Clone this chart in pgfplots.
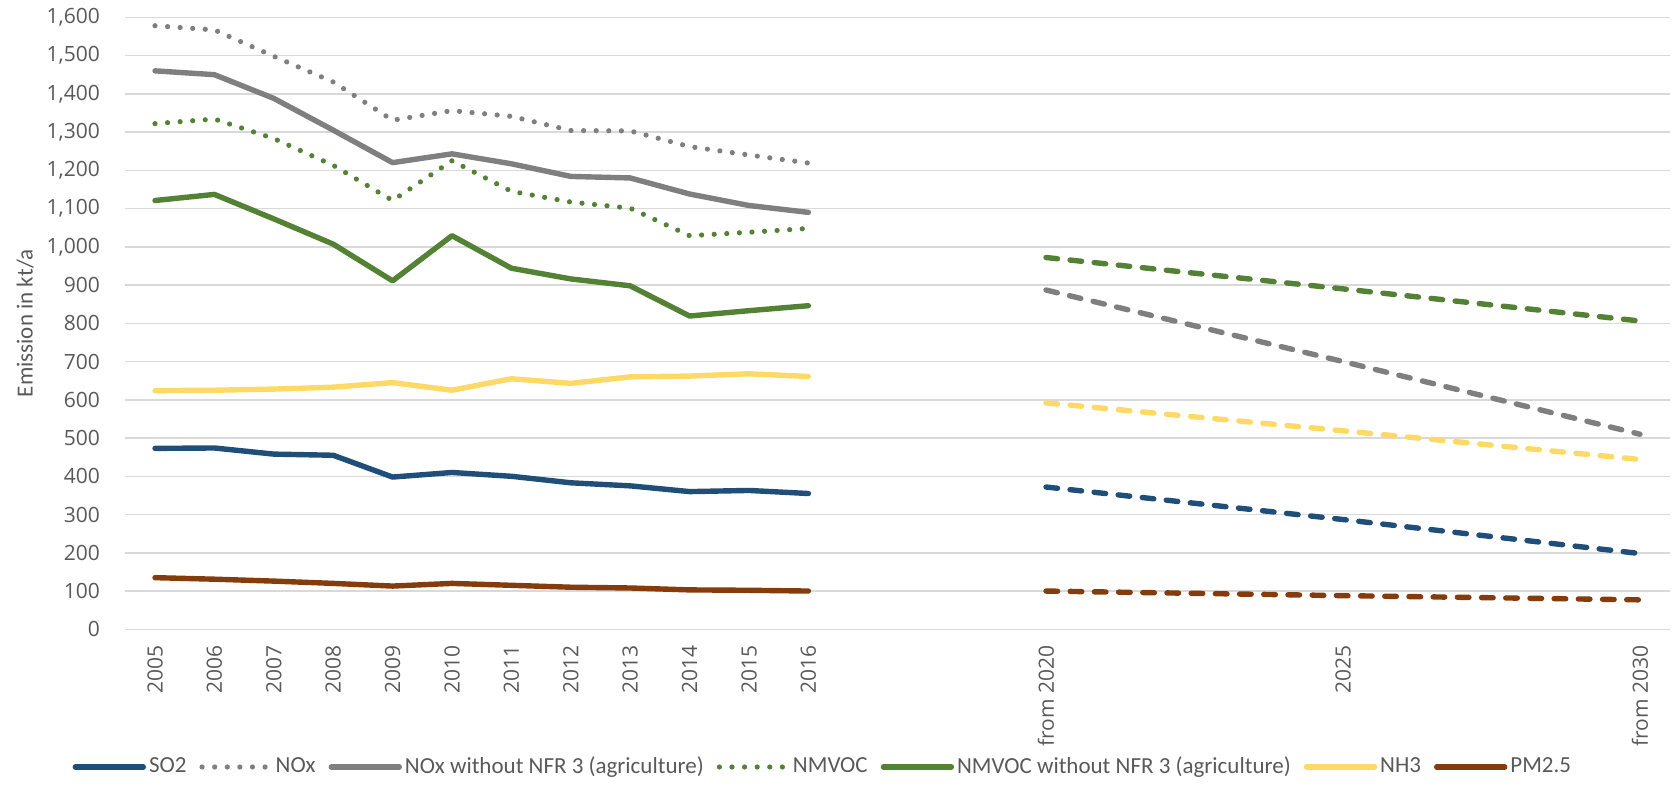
\documentclass[border=0pt]{standalone}
\usepackage{fontspec}
\setmainfont{Carlito}
\newfontfamily\tickfont{Open Sans}
\usepackage{pgfplots}
\pgfplotsset{compat=1.18}
\definecolor{cSO}{HTML}{1F4E79}
\definecolor{cNOx}{HTML}{7F7F7F}
\definecolor{cVOC}{HTML}{548235}
\definecolor{cNH}{HTML}{FFD966}
\definecolor{cPM}{HTML}{843C0C}
\definecolor{gridgray}{HTML}{D9D9D9}
\definecolor{textgray}{HTML}{595959}
\tikzset{
  solidline/.style={line width=2.7bp, line cap=round, line join=round, solid},
  dotline/.style={line width=2.6bp, line cap=round, line join=round, dash pattern=on 0bp off 6.3bp},
  dashline/.style={line width=2.7bp, line cap=round, line join=round, dash pattern=on 5.8bp off 6.3bp},
}
\begin{document}
\begin{tikzpicture}
\path[use as bounding box] (-62.65bp,-84.35bp) rectangle (774.85bp,314.65bp);
\begin{axis}[
  at={(0,0)}, anchor=south west,
  scale only axis, width=772.2bp, height=306bp,
  xmin=2004.5, xmax=2030.5, ymin=0, ymax=1600,
  axis line style={draw=none},
  major tick length=0pt,
  ymajorgrids, grid style={gridgray, line width=0.75bp},
  xtick={2005,2006,2007,2008,2009,2010,2011,2012,2013,2014,2015,2016,2020,2025,2030},
  xticklabels={2005,2006,2007,2008,2009,2010,2011,2012,2013,2014,2015,2016,from 2020,2025,from 2030},
  ytick={0,100,...,1600},
  scaled y ticks=false,
  /pgf/number format/.cd, 1000 sep={,}, assume math mode=true, /pgfplots/.cd,
  xticklabel style={rotate=90, anchor=east, inner sep=0pt, font=\tickfont\fontsize{10.5bp}{12bp}\selectfont, text=textgray},
  yticklabel style={anchor=east, inner sep=0pt, font=\tickfont\fontsize{10.5bp}{12bp}\selectfont, text=textgray},
  xticklabel shift=7.85bp,
  yticklabel shift=12.5bp,
  ylabel={Emission in kt/a},
  every axis y label/.style={at={(axis description cs:-0.0649,0.5)}, rotate=90, anchor=center, font=\fontsize{11.5bp}{13bp}\selectfont, text=textgray},
  legend style={at={(axis description cs:0.452,-0.225)}, anchor=center, draw=none, fill=none,
    font=\fontsize{11.5bp}{13bp}\selectfont, text=textgray, inner sep=0pt,
    nodes={inner sep=1.5bp},
    /tikz/every even column/.append style={column sep=5bp}},
  legend columns=7,
  legend cell align=left,
  legend image code/.code={\draw[#1] (0bp,0bp) -- (34bp,0bp);},
  clip=false,
]
% historical
\addplot[cSO, solidline, mark=none] coordinates {
 (2005,473)(2006,474)(2007,458)(2008,455)(2009,398)(2010,410)(2011,400)(2012,383)(2013,375)(2014,360)(2015,363)(2016,355)};
\addlegendentry{SO2}
\addplot[cNOx, dotline, mark=none] coordinates {
 (2005,1578)(2006,1567)(2007,1498)(2008,1431)(2009,1331)(2010,1356)(2011,1341)(2012,1304)(2013,1303)(2014,1262)(2015,1240)(2016,1219)};
\addlegendentry{NOx}
\addplot[cNOx, solidline, mark=none] coordinates {
 (2005,1460)(2006,1450)(2007,1388)(2008,1305)(2009,1220)(2010,1243)(2011,1217)(2012,1184)(2013,1180)(2014,1138)(2015,1108)(2016,1090)};
\addlegendentry{NOx without NFR 3 (agriculture)}
\addplot[cVOC, dotline, mark=none] coordinates {
 (2005,1322)(2006,1334)(2007,1283)(2008,1213)(2009,1121)(2010,1225)(2011,1145)(2012,1117)(2013,1101)(2014,1029)(2015,1038)(2016,1048)};
\addlegendentry{NMVOC}
\addplot[cVOC, solidline, mark=none] coordinates {
 (2005,1121)(2006,1137)(2007,1073)(2008,1007)(2009,911)(2010,1029)(2011,944)(2012,916)(2013,898)(2014,819)(2015,833)(2016,846)};
\addlegendentry{NMVOC without NFR 3 (agriculture)}
\addplot[cNH, solidline, mark=none] coordinates {
 (2005,624)(2006,625)(2007,628)(2008,633)(2009,645)(2010,625)(2011,655)(2012,643)(2013,660)(2014,662)(2015,668)(2016,661)};
\addlegendentry{NH3}
\addplot[cPM, solidline, mark=none] coordinates {
 (2005,135)(2006,131)(2007,126)(2008,120)(2009,113)(2010,120)(2011,115)(2012,110)(2013,108)(2014,103)(2015,102)(2016,100)};
\addlegendentry{PM2.5}
% projections
\addplot[cVOC, dashline, mark=none, forget plot] coordinates {(2020,972)(2025,890)(2030,806)};
\addplot[cNOx, dashline, mark=none, forget plot] coordinates {(2020,887)(2025,700)(2030,510)};
\addplot[cNH, dashline, mark=none, forget plot] coordinates {(2020,592)(2025,519)(2030,444)};
\addplot[cSO, dashline, mark=none, forget plot] coordinates {(2020,372)(2025,287)(2030,198)};
\addplot[cPM, dashline, mark=none, forget plot] coordinates {(2020,100)(2025,88)(2030,77)};
\end{axis}
\end{tikzpicture}
\end{document}
